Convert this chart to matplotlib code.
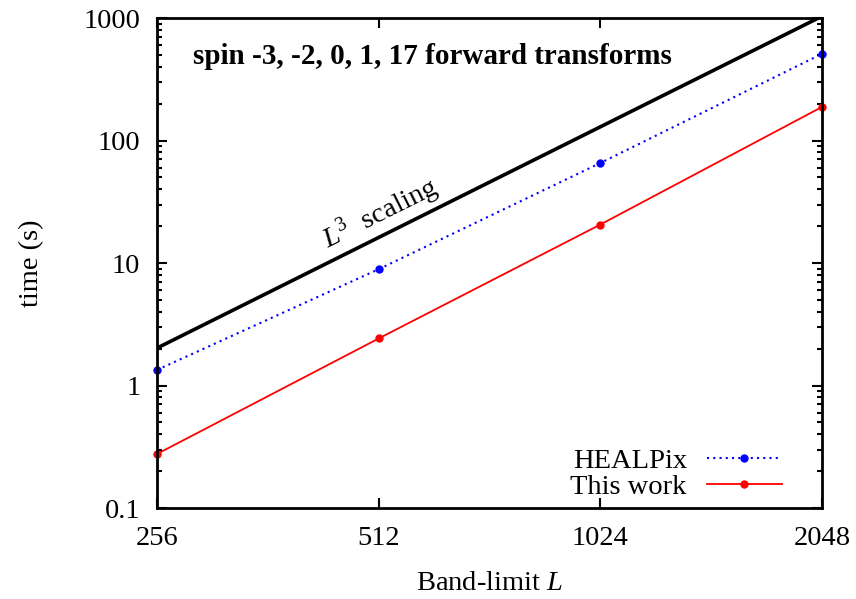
import matplotlib
matplotlib.use("Agg")
import matplotlib.pyplot as plt
import numpy as np
from matplotlib.ticker import FixedLocator, NullFormatter, LogLocator

L = [256, 512, 1024, 2048]
healpix = [1.34, 8.9, 65.5, 510]
this_work = [0.276, 2.42, 20.6, 188]
scaling_L = [256, 2048]
scaling_t = [2.02, 2.02 * 8 ** 3]
xticks = [256, 512, 1024, 2048]
yticks = [0.1, 1, 10, 100, 1000]
ytick_labels = ["0.1", "1", "10", "100", "1000"]

plt.rcParams['font.family'] = ['Liberation Serif', 'DejaVu Serif']
plt.rcParams['mathtext.fontset'] = 'custom'
plt.rcParams['mathtext.it'] = 'Liberation Serif:italic'
plt.rcParams['mathtext.rm'] = 'Liberation Serif'

FS = 20.5

fig = plt.figure(figsize=(8.56, 5.99), dpi=100)
ax = fig.add_axes([157/856, 1-508/599, (822-157)/856, (508-18)/599])

ax.plot(scaling_L, scaling_t, color='black', lw=2.6, solid_capstyle='butt', clip_on=True)
ax.plot(L, healpix, color='blue', lw=1.5, ls=(0, (1, 2)), marker='o', ms=5,
        label='HEALPix', clip_on=False)
ax.plot(L, this_work, color='red', lw=1.3, marker='o', ms=5,
        label='This work', clip_on=False)

ax.set_xscale('log', base=2)
ax.set_yscale('log')
ax.set_xlim(256, 2048)
ax.set_ylim(0.1, 1000)

ax.xaxis.set_major_locator(FixedLocator(xticks))
ax.set_xticklabels([str(v) for v in xticks])
ax.xaxis.set_minor_locator(FixedLocator([]))
ax.yaxis.set_major_locator(FixedLocator(yticks))
ax.set_yticklabels(ytick_labels)
ax.yaxis.set_minor_locator(LogLocator(base=10, subs=np.arange(2, 10)))
ax.yaxis.set_minor_formatter(NullFormatter())

ax.tick_params(which='both', direction='in', top=True, right=True, labelsize=FS, width=1.5)
ax.tick_params(which='major', length=7)
ax.tick_params(which='minor', length=3.5)
ax.tick_params(axis='x', pad=13)
ax.tick_params(axis='y', pad=12)
for s in ax.spines.values():
    s.set_linewidth(2)

ax.set_xlabel('Band-limit $L$', fontsize=FS, labelpad=14)
ax.set_ylabel('time (s)', fontsize=FS, labelpad=28)

ax.text(0.054, 0.922, 'spin -3, -2, 0, 1, 17 forward transforms', transform=ax.transAxes,
        fontsize=21, fontweight='bold', ha='left', va='center')
ax.text(0.336, 0.6, '$L^3$  scaling', transform=ax.transAxes, fontsize=FS,
        rotation=26.5, ha='center', va='center', rotation_mode='anchor')

leg = ax.legend(loc='lower right', bbox_to_anchor=(0.965, -0.018), frameon=False,
                fontsize=FS, markerfirst=False, handlelength=2.63, handletextpad=0.7,
                labelspacing=0.0, borderaxespad=0.2)

fig.savefig('out.png', dpi=100)
